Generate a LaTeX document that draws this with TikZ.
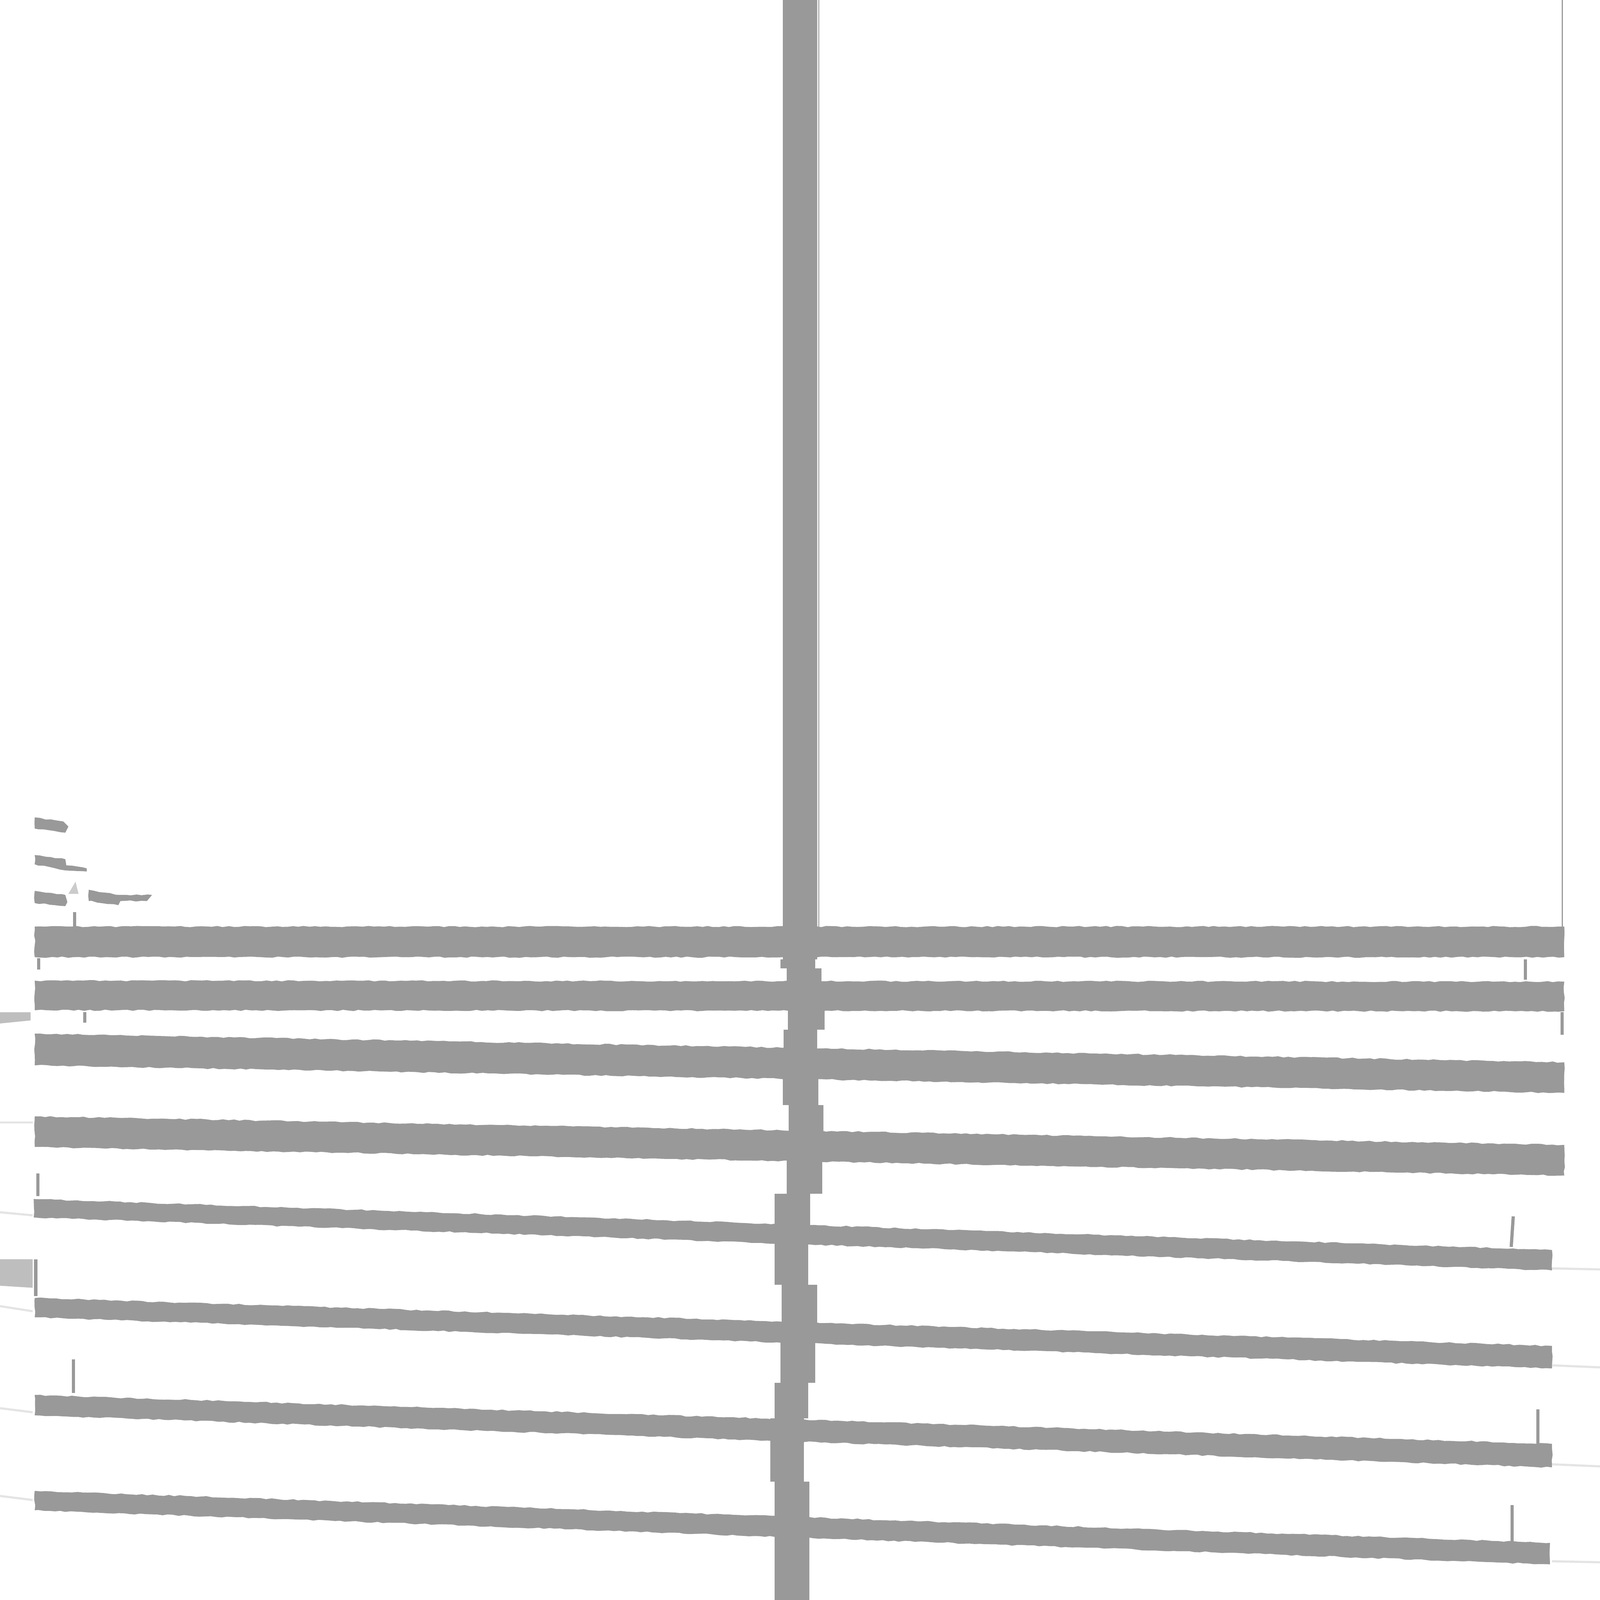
\documentclass[tikz,border=0pt]{standalone}
\usepackage{tikz}
\usetikzlibrary{decorations.pathmorphing}

\definecolor{slatgray}{RGB}{153,153,153}
\definecolor{fadegray}{RGB}{190,190,190}
\definecolor{palegray}{RGB}{228,228,228}

\tikzset{
  slat/.style={fill=slatgray, draw=none, decorate,
    decoration={random steps, segment length=1.5pt, amplitude=0.18pt}},
  pole/.style={fill=slatgray, draw=none},
  cord/.style={draw=slatgray, line width=0.9pt},
  shade/.style={fill=fadegray, draw=none},
  faint/.style={draw=palegray, line width=0.6pt}
}

\begin{document}
\begin{tikzpicture}[x=0.01cm, y=-0.01cm]
\useasboundingbox (0, 0) rectangle (1568, 1568);

% pole
\fill[pole] (767, 0) rectangle (801, 940);
\fill[pole] (765, 940) rectangle (799, 949);
\fill[pole] (771, 949) rectangle (805, 962);
\fill[pole] (772, 990) rectangle (808, 1009);
\fill[pole] (768, 1009) rectangle (801, 1030);
\fill[pole] (767, 1056) rectangle (802, 1083);
\fill[pole] (773, 1083) rectangle (807, 1110);
\fill[pole] (771, 1124) rectangle (806, 1170);
\fill[pole] (759, 1170) rectangle (794, 1206);
\fill[pole] (759, 1206) rectangle (792, 1259);
\fill[pole] (766, 1259) rectangle (801, 1296);
\fill[pole] (765, 1296) rectangle (799, 1355);
\fill[pole] (759, 1355) rectangle (792, 1390);
\fill[pole] (755, 1390) rectangle (788, 1452);
\fill[pole] (759, 1452) rectangle (793, 1568);
\draw[draw=fadegray, line width=0.4pt] (802.5, 0) -- (802.5, 908);

% right edge line
\draw[draw=slatgray, line width=0.35pt] (1531, 0) -- (1531, 908);

% broken slats at the top
\fill[slat] (34, 801) -- (62, 805) -- (67, 810) -- (64, 816) -- (34, 812) -- cycle;
\fill[slat] (34, 838) -- (64, 842) -- (65, 848) -- (85, 851) -- (85, 854) -- (64, 853) -- (34, 847) -- cycle;
\fill[slat] (34, 873) -- (64, 877) -- (66, 884) -- (64, 888) -- (34, 885) -- cycle;
\fill[slat] (87, 872) -- (118, 877) -- (149, 877) -- (144, 883) -- (118, 883) -- (116, 887) -- (87, 883) -- cycle;
\fill[fadegray!80] (67, 876) -- (74, 864) -- (77, 876) -- cycle;
\draw[cord] (73, 894) -- (73, 908);

% slats
\fill[slat] (34, 908) -- (1533, 908) -- (1533, 938) -- (34, 938) -- cycle;
\fill[slat] (34, 961) -- (1533, 962) -- (1533, 991) -- (34, 990) -- cycle;
\fill[slat] (34, 1013) -- (1533, 1041) -- (1533, 1071) -- (34, 1044) -- cycle;
\fill[slat] (34, 1094) -- (1533, 1122) -- (1533, 1152) -- (34, 1124) -- cycle;
\fill[slat] (33, 1175) -- (1521, 1225) -- (1521, 1245) -- (33, 1193) -- cycle;
\fill[slat] (34, 1272) -- (1521, 1319) -- (1521, 1341) -- (34, 1291) -- cycle;
\fill[slat] (34, 1367) -- (1521, 1415) -- (1521, 1438) -- (34, 1387) -- cycle;
\fill[slat] (34, 1461) -- (1519, 1512) -- (1519, 1533) -- (34, 1480) -- cycle;

% cords between slats
\draw[cord] (38, 939) -- (38, 950);
\draw[cord] (1495, 940) -- (1495, 960);
\draw[cord] (83, 992) -- (83, 1002);
\draw[cord] (1531, 992) -- (1531, 1014);
\draw[cord] (37, 1150) -- (37, 1172);
\draw[cord] (1483, 1192) -- (1481, 1222);
\draw[cord] (35, 1234) -- (35, 1270);
\draw[cord] (72, 1332) -- (72, 1365);
\draw[cord] (1507, 1381) -- (1507, 1415);
\draw[cord] (1482, 1475) -- (1482, 1512);

% light marks at the sides
\fill[shade] (0, 992) -- (30, 992) -- (30, 1000) -- (0, 1003) -- cycle;
\fill[shade] (0, 1234) -- (32, 1234) -- (32, 1262) -- (0, 1260) -- cycle;
\draw[faint] (0, 1100) -- (32, 1100);
\draw[faint] (0, 1188) -- (32, 1191);
\draw[faint] (0, 1280) -- (32, 1285);
\draw[faint] (0, 1380) -- (32, 1384);
\draw[faint] (0, 1466) -- (32, 1470);
\draw[faint] (1521, 1243) -- (1568, 1244);
\draw[faint] (1521, 1338) -- (1568, 1340);
\draw[faint] (1521, 1435) -- (1568, 1437);
\draw[faint] (1521, 1530) -- (1568, 1531);
\end{tikzpicture}
\end{document}
